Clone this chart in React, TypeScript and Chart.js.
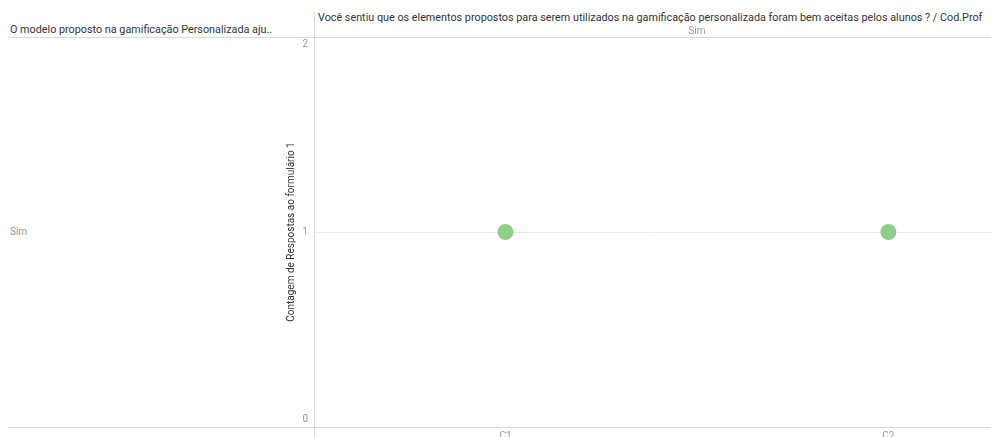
import React, { useEffect, useRef } from "react";
import { Chart, registerables } from "chart.js";

Chart.register(...registerables);

const categories = ["C1", "C2"];
const counts = [1, 1];
const yTicks = [0, 1, 2];
const rowLabels = ["Sim"];
const columnLabel = "Sim";
const leftHeader = "O modelo proposto na gamificação Personalizada aju..";
const topHeader =
  "Você sentiu que os elementos propostos para serem utilizados na gamificação personalizada foram bem aceitas pelos alunos ? / Cod.Prof";
const yTitle = "Contagem de Respostas ao formulário 1";

const FONT = "Roboto, 'Noto Sans', sans-serif";

const noPad = (s: any) => {
  s.paddingTop = 0;
  s.paddingBottom = 0;
  s.paddingLeft = 0;
  s.paddingRight = 0;
};

export default function App() {
  const ref = useRef<HTMLCanvasElement | null>(null);

  useEffect(() => {
    if (!ref.current) return;
    Chart.defaults.font.family = FONT;
    const chart = new Chart(ref.current, {
      type: "scatter",
      data: {
        datasets: [
          {
            data: categories.map((c, i) => ({ x: i, y: counts[i] })),
            backgroundColor: "#8dcf86",
            borderWidth: 0,
            pointRadius: 8,
            pointHoverRadius: 8,
          },
        ],
      },
      options: {
        animation: false,
        responsive: false,
        maintainAspectRatio: false,
        layout: { padding: 0, autoPadding: false },
        plugins: { legend: { display: false }, tooltip: { enabled: false } },
        scales: {
          x: {
            type: "linear",
            min: -0.5,
            max: 1.268,
            afterBuildTicks: (s: any) => {
              s.ticks = categories.map((_, i) => ({ value: i }));
            },
            afterFit: (s: any) => {
              s.height = 10;
              noPad(s);
            },
            ticks: {
              autoSkip: false,
              maxRotation: 0,
              padding: 3,
              color: "#999",
              font: { size: 10 },
              callback: (v: any) => categories[v as number] ?? "",
            },
            grid: { display: false, drawTicks: false },
            border: { display: false },
          },
          y: {
            min: -0.04,
            max: 2.04,
            afterBuildTicks: (s: any) => {
              s.ticks = yTicks.map((v) => ({ value: v }));
            },
            afterFit: (s: any) => {
              s.width = 38;
              noPad(s);
            },
            ticks: {
              padding: 6,
              color: "#999",
              font: { size: 10 },
              callback: (v: any) => String(v),
            },
            grid: {
              drawTicks: false,
              color: (ctx: any) => (ctx.tick && ctx.tick.value === 1 ? "#ececec" : "rgba(0,0,0,0)"),
            },
            border: { display: false },
            title: {
              display: true,
              text: yTitle,
              color: "#333",
              font: { size: 10 },
              padding: { top: 9, bottom: 0 },
            },
          },
        },
      },
    });
    return () => chart.destroy();
  }, []);

  const line = "#d9d9d9";
  return (
    <div
      style={{
        position: "fixed",
        left: 0,
        top: 0,
        width: 991,
        height: 437,
        overflow: "hidden",
        background: "#fff",
        fontFamily: FONT,
        fontSize: 10.8,
      }}
    >
      <canvas
        ref={ref}
        width={715}
        height={400}
        style={{ position: "absolute", left: 276, top: 37, width: 715, height: 400 }}
      />
      <div style={{ position: "absolute", left: 314, top: 12, width: 1, height: 425, background: line }} />
      <div style={{ position: "absolute", left: 8, top: 37, width: 983, height: 1, background: line }} />
      <div style={{ position: "absolute", left: 8, top: 427, width: 983, height: 1, background: line }} />
      <div
        style={{
          position: "absolute",
          left: 10,
          top: 23,
          color: "#333",
          whiteSpace: "nowrap",
          lineHeight: "13px",
        }}
      >
        {leftHeader}
      </div>
      <div
        style={{
          position: "absolute",
          left: 318,
          top: 11,
          width: 673,
          color: "#333",
          whiteSpace: "nowrap",
          overflow: "hidden",
          lineHeight: "13px",
        }}
      >
        {topHeader}
      </div>
      <div
        style={{
          position: "absolute",
          left: 597,
          top: 25,
          width: 200,
          textAlign: "center",
          color: "#999",
          fontSize: 10,
          lineHeight: "12px",
        }}
      >
        {columnLabel}
      </div>
      {rowLabels.map((r) => (
        <div
          key={r}
          style={{ position: "absolute", left: 10, top: 226, color: "#999", fontSize: 10, lineHeight: "12px" }}
        >
          {r}
        </div>
      ))}
    </div>
  );
}
